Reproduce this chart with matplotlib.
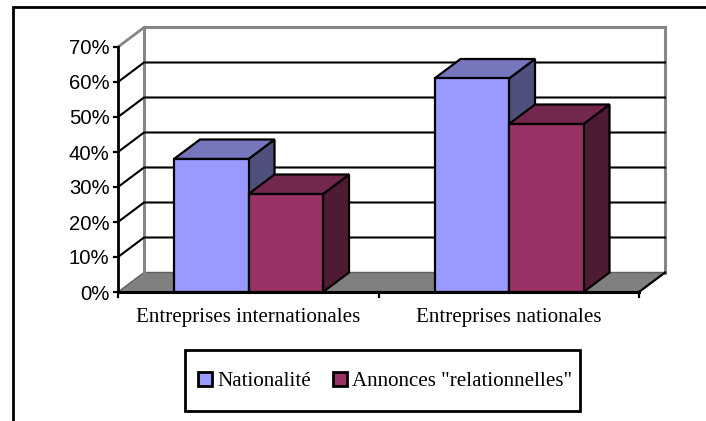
"""Faux-3D clustered columns, drawn on an axes whose box is the front plane."""
import matplotlib

matplotlib.use("Agg")
import matplotlib.pyplot as plt
from matplotlib.patches import Polygon, Rectangle

plt.rcParams["font.family"] = ["Liberation Sans", "DejaVu Sans"]

categories = ["Entreprises internationales", "Entreprises nationales"]
series_names = ["Nationalité", 'Annonces "relationnelles"']
nationalite = [38, 61]
annonces = [28, 48]
y_ticks = [0, 10, 20, 30, 40, 50, 60, 70]

W, H = 706, 421
DPI = 100
# front plane in pixels
FX0, FX1, FY0, FY1 = 118, 639, 292, 47
# depth offset in data units
DX = 26 / (FX1 - FX0) * 2
DY = 19.5 / (FY0 - FY1) * 70
BAR_W = 0.286
GAP_LEFT = 0.215

COLORS = [("#9999FF", "#7676BC", "#50507F"), ("#993366", "#74274D", "#4F1A34")]


def shade(ax, pts, color, zorder, lw=1.6, edge="black"):
    ax.add_patch(Polygon(pts, closed=True, facecolor=color, edgecolor=edge, lw=lw,
                         joinstyle="miter", zorder=zorder, clip_on=False))


def column(ax, x, w, h, cols, zorder):
    front, top, side = cols
    shade(ax, [(x + w, 0), (x + w + DX, DY), (x + w + DX, h + DY), (x + w, h)], side, zorder)
    shade(ax, [(x, h), (x + DX, h + DY), (x + w + DX, h + DY), (x + w, h)], top, zorder)
    shade(ax, [(x, 0), (x + w, 0), (x + w, h), (x, h)], front, zorder + 0.1)


fig = plt.figure(figsize=(W / DPI, H / DPI), dpi=DPI)
ax = fig.add_axes([FX0 / W, 1 - FY0 / H, (FX1 - FX0) / W, (FY0 - FY1) / H])
ax.set_xlim(0, 2)
ax.set_ylim(0, 70)
ax.patch.set_visible(False)
for s in ax.spines.values():
    s.set_visible(False)
ax.set_xticks([])
ax.set_yticks([])

# floor and back wall
shade(ax, [(0, 0), (DX, DY), (2 + DX, DY), (2, 0)], "#808080", 1, lw=1.0, edge="#606060")
ax.plot([DX, DX, 2 + DX, 2 + DX], [DY, 70 + DY, 70 + DY, DY], color="#868686", lw=2.2,
        solid_joinstyle="miter", clip_on=False, zorder=1.5)
ax.plot([0, DX], [70, 70 + DY], color="#868686", lw=2.0, clip_on=False, zorder=1.5)

# gridlines
for v in y_ticks[1:-1]:
    ax.plot([0, DX, 2 + DX], [v, v + DY, v + DY], color="black", lw=1.5, clip_on=False, zorder=2)

# columns, first series behind the second
for g in range(len(categories)):
    x = g + GAP_LEFT
    column(ax, x, BAR_W, nationalite[g], COLORS[0], 3)
    column(ax, x + BAR_W, BAR_W, annonces[g], COLORS[1], 4)

# floor edges and front axes
ax.plot([2, 2 + DX], [0, DY], color="black", lw=1.6, clip_on=False, zorder=2)
ax.plot([0, 0], [0, 70], color="black", lw=2.0, clip_on=False, zorder=6)
ax.plot([0, 2], [0, 0], color="black", lw=2.2, clip_on=False, zorder=6)

# ticks and labels
tx = (FX1 - FX0) / 2
py = (FY0 - FY1) / 70
for v in y_ticks:
    ax.plot([-4 / tx, 0], [v, v], color="black", lw=1.6, clip_on=False, zorder=6)
    ax.text(-8.5 / tx, v - 2 / py, f"{v}%", ha="right", va="center", fontsize=14.6, color="black",
            clip_on=False)
for v in [0, 1, 2]:
    ax.plot([v, v], [0, -5 / py], color="black", lw=1.6, clip_on=False, zorder=6)
for i, name in enumerate(categories):
    ax.text(i + 0.5, -25.5 / py, name, ha="center", va="center", fontsize=15.1,
            family=["Liberation Serif", "DejaVu Serif"], clip_on=False)

# page frame, open on the right and at the bottom
fig.add_artist(plt.Line2D([12.5 / W, 12.5 / W, 1], [0, 1 - 6.5 / H, 1 - 6.5 / H], color="black",
                          lw=2.0, solid_joinstyle="miter"))

# hand-placed legend box
LEG = (185, 350, 580, 411)
fig.add_artist(Rectangle((LEG[0] / W, 1 - LEG[3] / H), (LEG[2] - LEG[0]) / W, (LEG[3] - LEG[1]) / H,
                         transform=fig.transFigure, facecolor="white", edgecolor="black", lw=2.0,
                         joinstyle="miter"))
for (sx, tx_pos), name, cols in zip([(198, 217), (333, 352)], series_names, COLORS):
    fig.add_artist(Rectangle((sx / W, 1 - 386 / H), 14 / W, 14 / H, transform=fig.transFigure,
                             facecolor=cols[0], edgecolor="black", lw=2.0))
    fig.text(tx_pos / W, 1 - 381 / H, name, ha="left", va="center", fontsize=15.1,
             family=["Liberation Serif", "DejaVu Serif"])

fig.savefig("out.png", dpi=DPI)
plt.close(fig)
